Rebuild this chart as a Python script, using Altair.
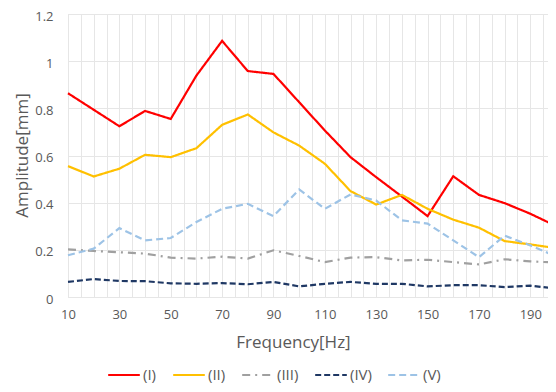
import altair as alt
import pandas as pd

freq = [10, 20, 30, 40, 50, 60, 70, 80, 90, 100, 110, 120, 130, 140, 150, 160, 170, 180, 190, 200]
s1 = [0.864, 0.794, 0.724, 0.789, 0.755, 0.939, 1.086, 0.958, 0.946, 0.826, 0.706, 0.593, 0.508, 0.426, 0.343, 0.512, 0.433, 0.398, 0.353, 0.301]
s2 = [0.555, 0.511, 0.544, 0.603, 0.593, 0.631, 0.730, 0.774, 0.698, 0.642, 0.565, 0.449, 0.392, 0.433, 0.374, 0.328, 0.294, 0.237, 0.223, 0.207]
s3 = [0.202, 0.195, 0.190, 0.184, 0.167, 0.163, 0.171, 0.163, 0.198, 0.174, 0.148, 0.167, 0.169, 0.155, 0.158, 0.148, 0.138, 0.160, 0.151, 0.146]
s4 = [0.064, 0.076, 0.068, 0.067, 0.058, 0.056, 0.059, 0.054, 0.064, 0.045, 0.056, 0.064, 0.056, 0.056, 0.045, 0.050, 0.050, 0.042, 0.048, 0.036]
s5 = [0.177, 0.205, 0.292, 0.240, 0.250, 0.318, 0.374, 0.395, 0.343, 0.456, 0.374, 0.435, 0.409, 0.325, 0.311, 0.240, 0.169, 0.260, 0.219, 0.172]

names = ["(I)", "(II)", "(III)", "(IV)", "(V)"]
colors = ["#FF0000", "#FFC000", "#A0A0A0", "#1F3864", "#9DC3E6"]
dashes = [[1, 0], [1, 0], [8, 5, 2, 5], [6, 3], [7, 4]]

rows = []
for name, vals in zip(names, [s1, s2, s3, s4, s5]):
    for f, v in zip(freq, vals):
        rows.append({"Frequency": f, "Amplitude": v, "Series": name})
df = pd.DataFrame(rows)

FONT = "Open Sans"
TXT = "#595959"

leg = dict(title=None, orient="none", legendX=39, legendY=344,
           direction="horizontal", columns=5,
           symbolType="stroke", symbolSize=1000,
           symbolStrokeWidth=2, columnPadding=12,
           labelFont=FONT, labelFontSize=15, labelColor=TXT,
           labelOffset=2)

chart = alt.Chart(df).mark_line(strokeWidth=2.2).encode(
    x=alt.X("Frequency:Q",
            scale=alt.Scale(domain=[10, 200], nice=False, zero=False),
            axis=alt.Axis(values=list(range(10, 201, 5)),
                          labelExpr="(datum.value - 10) % 20 == 0 ? datum.value : ''",
                          labelOverlap=False, labelFlush=False, ticks=False, tickSize=0, domain=False,
                          grid=True, gridColor="#E6E6E6", gridWidth=1,
                          labelFont=FONT, labelFontSize=13, labelColor=TXT, labelPadding=11,
                          title="Frequency[Hz]", titleFont=FONT, titleFontSize=17,
                          titleFontWeight="normal", titleColor=TXT,
                          titleX=225, titleY=45, titleBaseline="middle", titleAlign="center")),
    y=alt.Y("Amplitude:Q",
            scale=alt.Scale(domain=[0, 1.2], nice=False),
            axis=alt.Axis(values=[0, 0.2, 0.4, 0.6, 0.8, 1.0, 1.2], format="~g",
                          labelFlush=False, labelOffset=2, ticks=False, tickSize=0, domain=False,
                          grid=True, gridColor="#E6E6E6", gridWidth=1,
                          labelFont=FONT, labelFontSize=13, labelColor=TXT, labelPadding=15,
                          title="Amplitude[mm]", titleFont=FONT, titleFontSize=17,
                          titleFontWeight="normal", titleColor=TXT, titleAngle=270,
                          titleX=-46, titleY=141, titleBaseline="middle", titleAlign="center")),
    color=alt.Color("Series:N", scale=alt.Scale(domain=names, range=colors),
                    legend=alt.Legend(**leg)),
    strokeDash=alt.StrokeDash("Series:N", scale=alt.Scale(domain=names, range=dashes),
                              legend=alt.Legend(**leg)),
    order=alt.Order("Frequency:Q"),
).properties(
    width=488, height=283,
    autosize=alt.AutoSizeParams(type="none"),
    padding={"left": 60, "top": 6, "right": -8, "bottom": 87},
).configure_view(stroke=None).configure(background="white")

chart.save("out.html", embed_options={"renderer": "svg", "actions": False})
